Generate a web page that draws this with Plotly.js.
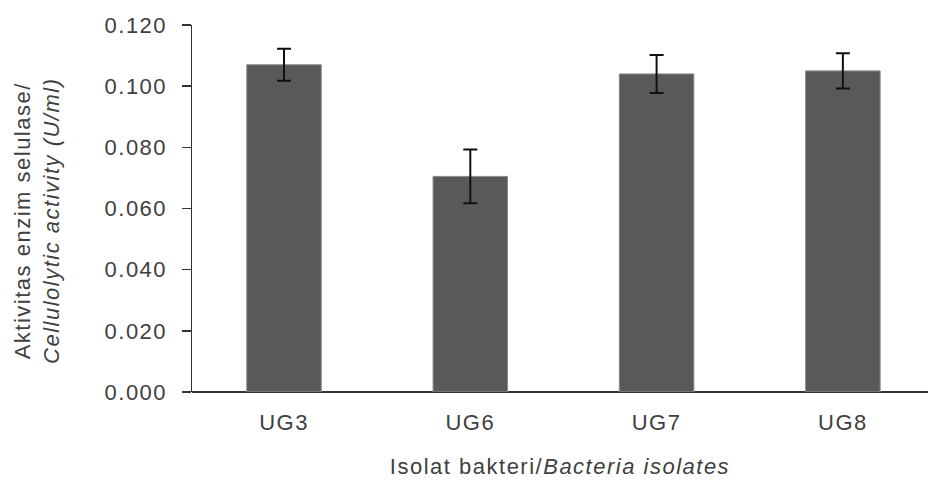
<!DOCTYPE html>
<html>
<head>
<meta charset="utf-8">
<script src="https://cdn.plot.ly/plotly-3.0.1.min.js"></script>
<style>
html,body{margin:0;padding:0;background:#fff;}
#chart{width:928px;height:481px;}
#chart text{letter-spacing:1.5px;}
</style>
</head>
<body>
<div id="chart"></div>
<script>
const categories = ["UG3", "UG6", "UG7", "UG8"];
const activity = [0.107, 0.0705, 0.104, 0.105];
const errors = [0.0052, 0.0088, 0.0062, 0.0058];
const yTickValues = [0, 0.02, 0.04, 0.06, 0.08, 0.1, 0.12];
const yTickLabels = ["0.000", "0.020", "0.040", "0.060", "0.080", "0.100", "0.120"];
const xTitle = "Isolat bakteri/<i>Bacteria isolates</i>";
const yTitle = "Aktivitas enzim selulase/<br><i>Cellulolytic activity (U/ml)</i>";

const textColor = "#404040";
const fontFamily = "'Liberation Sans', Arial, sans-serif";
const fs = 22;

const trace = {
  type: "bar",
  x: [0, 1, 2, 3],
  y: activity,
  marker: { color: "#595959", line: { color: "#8a8a8a", width: 1 } },
  error_y: { type: "data", array: errors, visible: true, color: "#111111", thickness: 2, width: 7 },
  hoverinfo: "none"
};

const layout = {
  width: 928,
  height: 481,
  margin: { l: 192, r: 0, t: 25, b: 89 },
  paper_bgcolor: "#ffffff",
  plot_bgcolor: "#ffffff",
  showlegend: false,
  bargap: 0.6,
  font: { family: fontFamily, size: fs, color: textColor },
  xaxis: {
    range: [-0.494, 3.457],
    tickmode: "array",
    tickvals: [0, 1, 2, 3],
    ticktext: categories,
    ticks: "",
    showgrid: false,
    zeroline: false,
    showline: false,
    ticklabelstandoff: 15,
    tickfont: { size: fs, color: textColor },
    title: { text: xTitle, font: { size: fs, color: textColor }, standoff: 24 },
    automargin: false
  },
  yaxis: {
    range: [0, 0.12],
    tickmode: "array",
    tickvals: yTickValues,
    ticktext: yTickLabels,
    ticks: "outside",
    ticklen: 9,
    tickwidth: 1.5,
    tickcolor: "#333333",
    showline: true,
    linecolor: "#333333",
    linewidth: 1.5,
    showgrid: false,
    zeroline: true,
    zerolinecolor: "#333333",
    zerolinewidth: 1.5,
    ticklabelstandoff: 10,
    tickfont: { size: fs, color: textColor },
    automargin: false
  },
  annotations: [{
    text: yTitle,
    xref: "paper", yref: "paper",
    x: -0.2106, y: 0.466,
    xanchor: "center", yanchor: "middle",
    textangle: -90,
    showarrow: false,
    font: { size: fs, color: textColor }
  }]
};

Plotly.newPlot("chart", [trace], layout, { staticPlot: true, displayModeBar: false });
</script>
</body>
</html>
